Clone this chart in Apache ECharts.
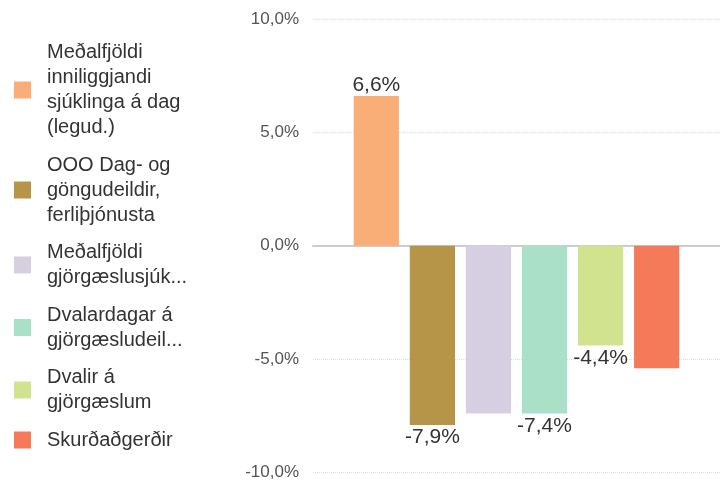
<!DOCTYPE html>
<html>
<head>
    <meta charset="utf-8">
    <title>Breyting</title>
    <script src="https://cdn.jsdelivr.net/npm/echarts@6/dist/echarts.min.js"></script>
    <style>
        html, body { margin: 0; padding: 0; background: #fff; }
        #chart { width: 720px; height: 481px; }
    </style>
</head>
<body>
    <div id="chart"></div>
    <script>
        // series names (as shown in legend, wrapped)
        var seriesNames = [
            'Meðalfjöldi\ninniliggjandi\nsjúklinga á dag\n(legud.)',
            'OOO Dag- og\ngöngudeildir,\nferliþjónusta',
            'Meðalfjöldi\ngjörgæslusjúk...',
            'Dvalardagar á\ngjörgæsludeil...',
            'Dvalir á\ngjörgæslum',
            'Skurðaðgerðir'
        ];
        var values = [6.6, -7.9, -7.4, -7.4, -4.4, -5.4];
        var showLabel = [true, true, false, true, true, false];
        var colors = ['#F9AE78', '#B69448', '#D5CFE1', '#AAE0C8', '#D2E38F', '#F47A5A'];
        var categories = [''];

        function pct(v) {
            return v.toFixed(1).replace('.', ',') + '%';
        }

        var series = seriesNames.map(function (name, i) {
            return {
                name: name,
                type: 'bar',
                data: [values[i]],
                barGap: '24%',
                barCategoryGap: '20%',
                itemStyle: { color: colors[i] },
                label: {
                    show: showLabel[i],
                    position: values[i] >= 0 ? 'top' : 'bottom',
                    distance: values[i] >= 0 ? 0 : 2,
                    fontSize: 21,
                    color: '#333',
                    fontFamily: 'Liberation Sans, Arial, sans-serif',
                    formatter: function (p) { return pct(p.value); }
                }
            };
        });

        var chart = echarts.init(document.getElementById('chart'));
        chart.setOption({
            animation: false,
            color: colors,
            legend: {
                orient: 'vertical',
                left: 9,
                top: 35,
                itemWidth: 17,
                itemHeight: 17,
                itemGap: 12.5,
                icon: 'rect',
                data: seriesNames,
                textStyle: {
                    fontSize: 20,
                    lineHeight: 25,
                    color: '#333',
                    fontFamily: 'Liberation Sans, Arial, sans-serif',
                    padding: [0, 0, 0, 11]
                }
            },
            grid: { left: 313, right: 0, top: 19, bottom: 8 },
            xAxis: {
                type: 'category',
                data: categories,
                axisTick: { show: false },
                axisLabel: { show: false },
                axisLine: { show: true, onZero: true, lineStyle: { color: '#cccccc', width: 2 } }
            },
            yAxis: {
                type: 'value',
                min: -10,
                max: 10,
                interval: 5,
                axisLine: { show: false },
                axisTick: { show: false },
                axisLabel: {
                    fontSize: 17,
                    color: '#555',
                    margin: 14,
                    fontFamily: 'Liberation Sans, Arial, sans-serif',
                    formatter: function (v) { return pct(v); }
                },
                splitLine: { lineStyle: { color: '#dddddd', type: 'dotted', width: 1 } }
            },
            series: series
        });
    </script>
</body>
</html>
